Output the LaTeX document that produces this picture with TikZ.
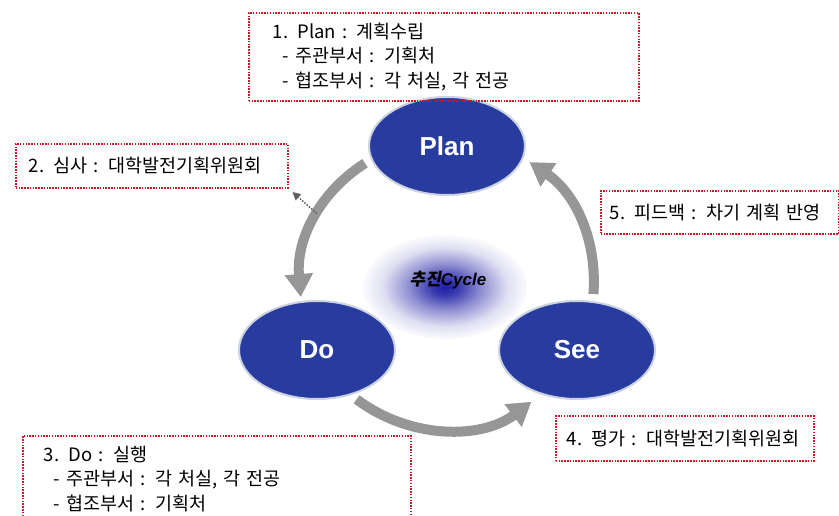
\documentclass[tikz,border=0pt]{standalone}
\usepackage{fontspec}
\setmainfont{Noto Sans CJK KR}
\setsansfont{Liberation Sans}
\newfontfamily\krhub[FakeSlant=0.2]{Noto Sans CJK KR}
\usetikzlibrary{shapes.geometric,arrows.meta}
\definecolor{stageblue}{RGB}{40,60,160}
\definecolor{stagerim}{RGB}{205,210,225}
\definecolor{cyclegray}{RGB}{150,150,150}
\definecolor{boxred}{RGB}{200,25,40}
\definecolor{glowblue}{RGB}{30,30,165}
\pgfdeclareradialshading{hubglow}{\pgfpoint{0bp}{0bp}}{color(0bp)=(glowblue); color(4bp)=(glowblue!88!white); color(11bp)=(glowblue!50!white); color(19bp)=(glowblue!14!white); color(26bp)=(white); color(50bp)=(white)}
\begin{document}
\begin{tikzpicture}[x=1pt,y=-1pt,
  stage/.style={ellipse, fill=stageblue, draw=stagerim, line width=2pt, minimum width=156pt, minimum height=98pt, text=white, font=\sffamily\bfseries\fontsize{26}{26}\selectfont},
  cyclearrow/.style={draw=cyclegray, line width=10pt, -{Triangle[width=27pt,length=23pt]}, shorten <=7pt},
  notebox/.style={draw=boxred, line width=1.7pt, dash pattern=on 1.5pt off 1.3pt, anchor=north west, align=left, inner ysep=0pt, font=\fontsize{18.5}{24.5}\selectfont},
  feedline/.style={draw=gray!75!black, line width=1.5pt, dash pattern=on 1.5pt off 1.5pt, -{Triangle[width=8pt,length=8pt]}}]
  \useasboundingbox (0,0) rectangle (839,516);
  \shade[shading=hubglow] (445,287) ellipse [x radius=82, y radius=52];
  \node[stage] (plan) at (447,146) {Plan};
  \node[stage] (do) at (317,350) {Do};
  \node[stage] (see) at (577,350) {See};
  \node[font=\fontsize{17}{17}\selectfont] (hub) at (448,280) {{\krhub\bfseries 추진}{\sffamily\bfseries\itshape Cycle}};
  \node[notebox, text width=342pt, inner xsep=24pt, minimum height=88pt] (planbox) at (248,12)
    {1. Plan : 계획수립\\\hspace*{10pt}- 주관부서 : 기획처\\\hspace*{10pt}- 협조부서 : 각 처실, 각 전공};
  \node[notebox, text width=246pt, inner xsep=13pt, minimum height=44pt] (reviewbox) at (15,143)
    {2. 심사 : 대학발전기획위원회};
  \node[notebox, text width=346pt, inner xsep=21pt, minimum height=86pt] (dobox) at (22,435)
    {3. Do : 실행\\\hspace*{10pt}- 주관부서 : 각 처실, 각 전공\\\hspace*{10pt}- 협조부서 : 기획처};
  \node[notebox, text width=236pt, inner xsep=11pt, minimum height=45pt] (evalbox) at (555,415)
    {4. 평가 : 대학발전기획위원회};
  \node[notebox, text width=220pt, inner xsep=9pt, minimum height=43pt] (feedbox) at (600,190)
    {5. 피드백 : 차기 계획 반영};
  \draw[cyclearrow, shorten >=4pt] (plan.190) to[bend right=31] coordinate[pos=0.46] (tap) (do.108);
  \draw[cyclearrow, shorten >=12pt] (do.-53) to[bend right=37] (see.231);
  \draw[cyclearrow, shorten >=7pt] (see.72) to[bend right=30] (plan.-9);
  \draw[feedline, shorten <=1pt, shorten >=5pt] (tap) -- (reviewbox.south east);
\end{tikzpicture}
\end{document}
